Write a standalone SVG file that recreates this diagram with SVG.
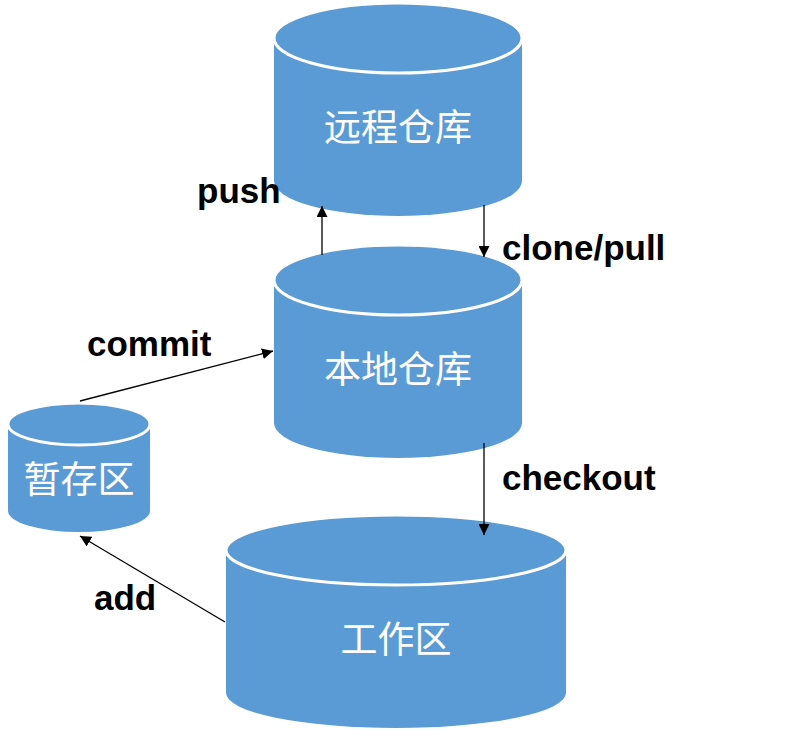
<svg xmlns="http://www.w3.org/2000/svg" width="791" height="732" viewBox="0 0 791 732">
<style>
.cyl{fill:#5B9BD5}
.rim{fill:#5B9BD5;stroke:#fff;stroke-width:3}
.name{font-family:"Noto Sans CJK SC","Liberation Sans",sans-serif;font-size:37px;fill:#fff;text-anchor:middle}
.lbl{font-family:"Liberation Sans",Arial,sans-serif;font-weight:bold;font-size:35px;fill:#000}
.edge{stroke:#000;stroke-width:1.3;fill:none;marker-end:url(#ah)}
</style>
<defs>
<marker id="ah" viewBox="0 0 10 10" refX="10" refY="5" markerWidth="11" markerHeight="11" markerUnits="userSpaceOnUse" orient="auto">
<path d="M0,0 L10,5 L0,10 Z" fill="#000"/>
</marker>
</defs>
<rect width="791" height="732" fill="#fff"/>
<g id="remote">
<path class="cyl" d="M274,38 L274,181 A124,35 0 0 0 522,181 L522,38 Z"/>
<ellipse class="rim" cx="398" cy="38" rx="124" ry="35"/>
<text class="name" x="398" y="141">远程仓库</text>
</g>
<g id="local">
<path class="cyl" d="M274,280 L274,423 A124,35 0 0 0 522,423 L522,280 Z"/>
<ellipse class="rim" cx="398" cy="280" rx="124" ry="35"/>
<text class="name" x="398" y="383">本地仓库</text>
</g>
<g id="staging">
<path class="cyl" d="M8,424 L8,511 A71,21 0 0 0 150,511 L150,424 Z"/>
<ellipse class="rim" cx="79" cy="424" rx="71" ry="21"/>
<text class="name" x="79" y="493">暂存区</text>
</g>
<g id="workspace">
<path class="cyl" d="M226,550 L226,693 A170,35 0 0 0 566,693 L566,550 Z"/>
<ellipse class="rim" cx="396" cy="550" rx="170" ry="35"/>
<text class="name" x="396" y="653">工作区</text>
</g>
<g id="connectors">
<line class="edge" x1="322" y1="255" x2="322" y2="206"/>
<line class="edge" x1="484" y1="205" x2="484" y2="257"/>
<line class="edge" x1="80" y1="401" x2="273" y2="351"/>
<line class="edge" x1="484" y1="443" x2="484" y2="535"/>
<line class="edge" x1="225" y1="622" x2="80" y2="536"/>
</g>
<g id="labels">
<text class="lbl" x="197" y="203">push</text>
<text class="lbl" x="502" y="260">clone/pull</text>
<text class="lbl" x="87" y="356">commit</text>
<text class="lbl" x="502" y="490">checkout</text>
<text class="lbl" x="94" y="610">add</text>
</g>
</svg>
